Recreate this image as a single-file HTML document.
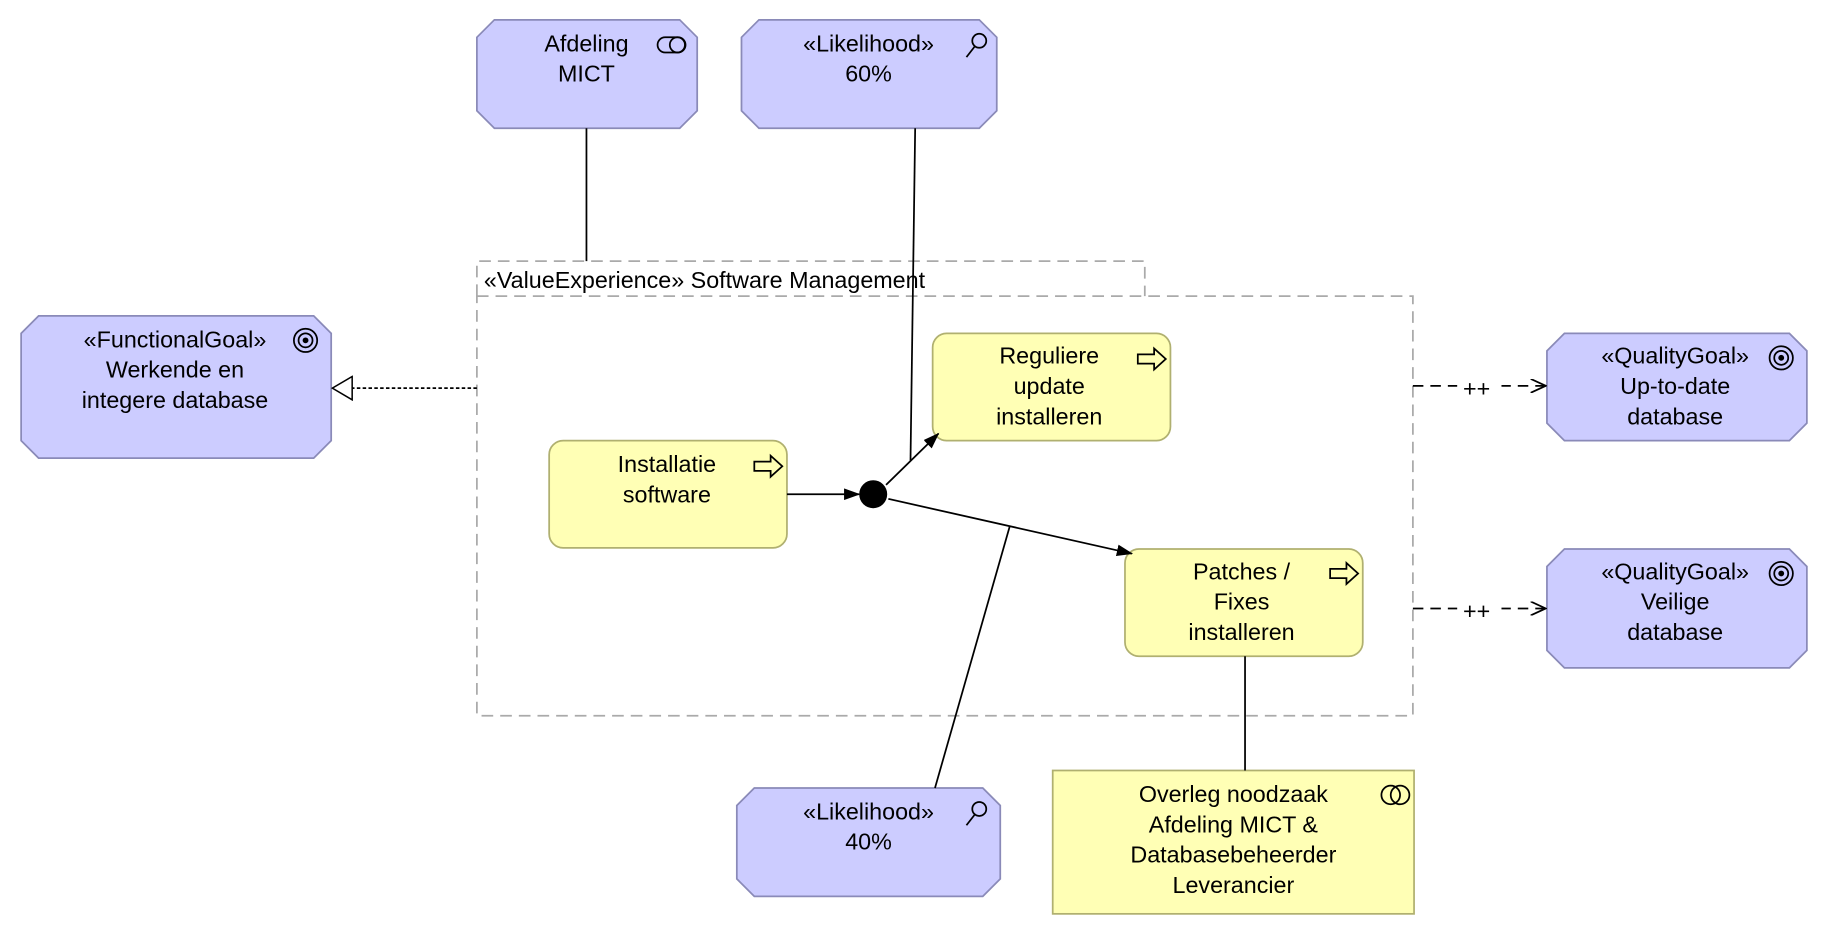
<!DOCTYPE html>
<html><head><meta charset="utf-8"><style>
html,body{margin:0;padding:0;background:#fff;width:1828px;height:936px;overflow:hidden}
text{font-family:"Liberation Sans","DejaVu Sans",sans-serif;font-size:20px;fill:#000}
</style></head><body>
<svg width="1828" height="936" viewBox="0 0 1568 803" xmlns="http://www.w3.org/2000/svg">
<defs>
<marker id="fa" markerWidth="14" markerHeight="10" refX="13" refY="5" orient="auto" markerUnits="userSpaceOnUse"><path d="M0,0 L14,5 L0,10 Z" fill="#000"/></marker>
<marker id="oa" markerWidth="14" markerHeight="12" refX="13" refY="6" orient="auto" markerUnits="userSpaceOnUse"><path d="M0,0 L13,6 L0,12" fill="none" stroke="#000" stroke-width="1.5"/></marker>
<marker id="ht" markerWidth="20" markerHeight="22" refX="18" refY="11" orient="auto" markerUnits="userSpaceOnUse"><path d="M1,1 L18,11 L1,21 Z" fill="#fff" stroke="#000" stroke-width="1.3"/></marker>
</defs>
<g fill="#ccccff" stroke="#8a8ab8" stroke-width="1.5">
<polygon points="424,17 583,17 598,32 598,95 583,110 424,110 409,95 409,32"/>
<polygon points="651,17 840,17 855,32 855,95 840,110 651,110 636,95 636,32"/>
<polygon points="33,271 269,271 284,286 284,378 269,393 33,393 18,378 18,286"/>
<polygon points="1342,286 1535,286 1550,301 1550,363 1535,378 1342,378 1327,363 1327,301"/>
<polygon points="1342,471 1535,471 1550,486 1550,558 1535,573 1342,573 1327,558 1327,486"/>
<polygon points="647,676 843,676 858,691 858,754 843,769 647,769 632,754 632,691"/>
</g>
<g fill="none" stroke="#aaa" stroke-width="1.5" stroke-dasharray="10,6">
<path d="M409,254 L409,224 L982,224 L982,254"/>
<rect x="409" y="254" width="803" height="360"/>
</g>
<g fill="#ffffb5" stroke="#b0b070" stroke-width="1.5">
<rect x="800" y="286" width="204" height="92" rx="12"/>
<rect x="471" y="378" width="204" height="92" rx="12"/>
<rect x="965" y="471" width="204" height="92" rx="12"/>
<rect x="903" y="661" width="310" height="123"/>
</g>
<g stroke="#000" stroke-width="1.5" fill="none">
<line x1="503" y1="110" x2="503" y2="224"/>
<line x1="785" y1="110" x2="781" y2="395"/>
<line x1="675" y1="424" x2="737" y2="424" marker-end="url(#fa)"/>
<line x1="760" y1="416" x2="805" y2="372" marker-end="url(#fa)"/>
<line x1="762" y1="428" x2="971" y2="475" marker-end="url(#fa)"/>
<line x1="866" y1="452" x2="802" y2="676"/>
<line x1="1068" y1="563" x2="1068" y2="661"/>
<line x1="409" y1="333" x2="285" y2="333" stroke-dasharray="3,2" marker-end="url(#ht)"/>
<line x1="1212" y1="331" x2="1326" y2="331" stroke-dasharray="9,6" marker-end="url(#oa)"/>
<line x1="1212" y1="522" x2="1326" y2="522" stroke-dasharray="9,6" marker-end="url(#oa)"/>
</g>
<rect x="1250" y="320" width="38" height="22" fill="#fff"/>
<rect x="1250" y="511" width="38" height="22" fill="#fff"/>
<text x="1255" y="340" font-size="22">++</text><text x="1255" y="531" font-size="22">++</text>
<circle cx="749" cy="424" r="12" fill="#000"/>
<g text-anchor="middle">
<text x="503" y="44">Afdeling</text><text x="503" y="70">MICT</text>
<text x="745" y="44">«Likelihood»</text><text x="745" y="70">60%</text>
<text x="150" y="298">«FunctionalGoal»</text><text x="150" y="324">Werkende en</text><text x="150" y="350">integere database</text>
<text x="1437" y="312">«QualityGoal»</text><text x="1437" y="338">Up-to-date</text><text x="1437" y="364">database</text>
<text x="1437" y="497">«QualityGoal»</text><text x="1437" y="523">Veilige</text><text x="1437" y="549">database</text>
<text x="745" y="703">«Likelihood»</text><text x="745" y="729">40%</text>
<text x="900" y="312">Reguliere</text><text x="900" y="338">update</text><text x="900" y="364">installeren</text>
<text x="572" y="405">Installatie</text><text x="572" y="431">software</text>
<text x="1065" y="497">Patches /</text><text x="1065" y="523">Fixes</text><text x="1065" y="549">installeren</text>
<text x="1058" y="688">Overleg noodzaak</text><text x="1058" y="714">Afdeling MICT &amp;</text><text x="1058" y="740">Databasebeheerder</text><text x="1058" y="766">Leverancier</text>
</g>
<text x="415" y="247">«ValueExperience» Software Management</text>
<g fill="none" stroke="#000" stroke-width="1.5">
<rect x="564" y="32" width="24" height="13" rx="6.5"/><circle cx="581" cy="38.5" r="6.5"/>
<circle cx="840" cy="35" r="6"/><line x1="836" y1="40" x2="829" y2="49"/>
<circle cx="840" cy="694" r="6"/><line x1="836" y1="699" x2="829" y2="708"/>
<circle cx="262" cy="292" r="10"/><circle cx="262" cy="292" r="6"/>
<circle cx="1528" cy="307" r="10"/><circle cx="1528" cy="307" r="6"/>
<circle cx="1528" cy="492" r="10"/><circle cx="1528" cy="492" r="6"/>
<circle cx="1193" cy="682" r="8"/><circle cx="1201" cy="682" r="8"/>
<path d="M976,304 h14 v-5 l10,9 l-10,9 v-5 h-14 z"/>
<path d="M647,396 h14 v-5 l10,9 l-10,9 v-5 h-14 z"/>
<path d="M1141,488 h14 v-5 l10,9 l-10,9 v-5 h-14 z"/>
</g>
<g fill="#000"><circle cx="262" cy="292" r="2.5"/><circle cx="1528" cy="307" r="2.5"/><circle cx="1528" cy="492" r="2.5"/></g>
</svg>
</body></html>
